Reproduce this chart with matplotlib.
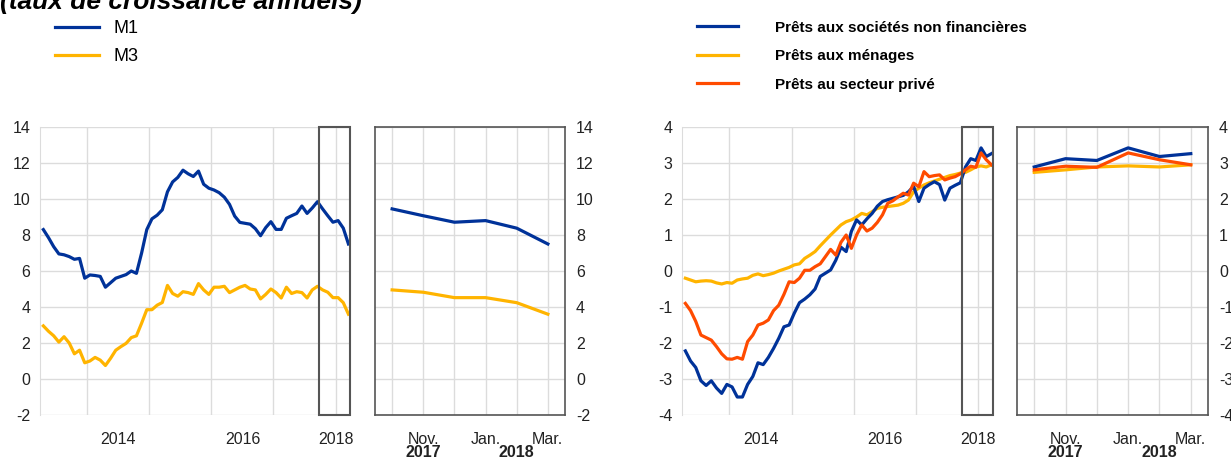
import numpy as np
import matplotlib
matplotlib.use('Agg')
import matplotlib.pyplot as plt
from matplotlib.patches import Rectangle
from matplotlib.lines import Line2D

plt.rcParams['font.family'] = ['Liberation Sans', 'DejaVu Sans']

# monthly data, Apr 2013 .. Mar 2018 (month index counted from Jan 2014)
first_month = -9
m1 = [8.3, 7.85, 7.35, 6.95, 6.9, 6.8, 6.65, 6.7, 5.6, 5.78,
      5.75, 5.7, 5.1, 5.35, 5.6, 5.7, 5.8, 6.0, 5.87, 7.0,
      8.3, 8.9, 9.1, 9.4, 10.4, 10.95, 11.2, 11.6, 11.4, 11.25,
      11.55, 10.82, 10.6, 10.5, 10.35, 10.1, 9.7, 9.05, 8.7, 8.65,
      8.6, 8.35, 7.96, 8.41, 8.74, 8.31, 8.31, 8.93, 9.07, 9.2,
      9.61, 9.2, 9.5, 9.85, 9.45, 9.07, 8.71, 8.8, 8.38, 7.5]
m3 = [2.95, 2.65, 2.4, 2.05, 2.35, 2.0, 1.4, 1.6, 0.9, 1.0,
      1.2, 1.05, 0.75, 1.15, 1.6, 1.8, 1.98, 2.3, 2.4, 3.1,
      3.85, 3.85, 4.1, 4.25, 5.2, 4.75, 4.6, 4.85, 4.8, 4.7,
      5.3, 4.95, 4.7, 5.1, 5.1, 5.15, 4.8, 4.95, 5.1, 5.2,
      5.0, 4.95, 4.45, 4.7, 5.0, 4.8, 4.5, 5.1, 4.75, 4.85,
      4.8, 4.5, 4.95, 5.15, 4.95, 4.82, 4.52, 4.52, 4.24, 3.6]
nfc = [-2.22, -2.5, -2.68, -3.05, -3.18, -3.05, -3.25, -3.4, -3.15, -3.22,
       -3.5, -3.5, -3.15, -2.93, -2.55, -2.6, -2.4, -2.15, -1.87, -1.55,
       -1.5, -1.17, -0.88, -0.78, -0.66, -0.5, -0.15, -0.06, 0.03, 0.3,
       0.66, 0.54, 1.1, 1.42, 1.28, 1.45, 1.6, 1.8, 1.93, 1.98,
       2.02, 2.06, 2.1, 2.2, 2.35, 1.93, 2.3, 2.4, 2.48, 2.4,
       1.97, 2.3, 2.38, 2.45, 2.89, 3.12, 3.07, 3.42, 3.18, 3.26]
households = [-0.2, -0.25, -0.3, -0.28, -0.27, -0.28, -0.33, -0.36, -0.32, -0.34,
              -0.25, -0.22, -0.2, -0.12, -0.08, -0.13, -0.1, -0.06, 0.0, 0.05,
              0.1, 0.17, 0.2, 0.35, 0.44, 0.54, 0.7, 0.85, 1.0, 1.14,
              1.28, 1.37, 1.42, 1.5, 1.6, 1.56, 1.65, 1.74, 1.77, 1.79,
              1.81, 1.83, 1.88, 1.97, 2.2, 2.3, 2.39, 2.45, 2.5, 2.55,
              2.6, 2.65, 2.68, 2.72, 2.74, 2.81, 2.89, 2.92, 2.89, 2.95]
private = [-0.9, -1.1, -1.4, -1.78, -1.85, -1.92, -2.1, -2.3, -2.44, -2.45,
           -2.4, -2.45, -1.96, -1.78, -1.5, -1.45, -1.36, -1.1, -0.95, -0.65,
           -0.3, -0.32, -0.2, 0.02, 0.02, 0.12, 0.2, 0.4, 0.6, 0.44,
           0.8, 1.0, 0.63, 1.0, 1.28, 1.11, 1.19, 1.35, 1.56, 1.88,
           1.95, 2.06, 2.16, 2.11, 2.44, 2.34, 2.76, 2.62, 2.65, 2.67,
           2.53, 2.58, 2.62, 2.7, 2.81, 2.91, 2.88, 3.28, 3.09, 2.95]

year_labels = ['2014', '2016', '2018']
year_label_pos = [6, 30, 48]
year_starts = [0, 12, 24, 36, 48]
zoom_month_labels = ['', 'Nov.', '', 'Jan.', '', 'Mar.']
zoom_year_labels = ['2017', '2018']
zoom_year_pos = [1, 4]
n_zoom = 6

blue = '#003299'
yellow = '#FFB400'
orange = '#FF4B00'
grid_c = '#dcdcdc'
frame_c = '#555555'

x = np.arange(len(m1)) + first_month + 0.5
xlim_main = (-9.15, 50.8)
box_left = 44.8

fig = plt.figure(figsize=(12.31, 4.59), dpi=100)
H = 459.0
W = 1231.0
bottom = (H - 415) / H
height = 288 / H
ax1 = fig.add_axes([40 / W, bottom, 310 / W, height])
ax2 = fig.add_axes([375 / W, bottom, 190 / W, height])
ax3 = fig.add_axes([682 / W, bottom, 311 / W, height])
ax4 = fig.add_axes([1017 / W, bottom, 191 / W, height])


def main_panel(ax, series, ylim, yticks):
    for vals, col in series:
        ax.plot(x, vals, color=col, lw=2.3, solid_joinstyle='round', zorder=3)
    ax.set_xlim(*xlim_main)
    ax.set_ylim(*ylim)
    ax.set_yticks(yticks)
    ax.set_yticklabels([str(v) for v in yticks])
    ax.set_xticks(year_label_pos)
    ax.set_xticklabels(year_labels)
    ax.grid(axis='y', color=grid_c, lw=1.0)
    for ys in year_starts:
        ax.axvline(ys, color=grid_c, lw=1.0, zorder=1)
    for s in ['top', 'right', 'bottom']:
        ax.spines[s].set_visible(False)
    ax.spines['left'].set_color(grid_c)
    ax.tick_params(axis='both', length=0, labelsize=11.5, colors='#222222')
    ax.tick_params(axis='x', pad=12)
    ax.tick_params(axis='y', pad=7)
    ax.add_patch(Rectangle((box_left, ylim[0]), xlim_main[1] - box_left,
                           ylim[1] - ylim[0], fill=False, ec=frame_c, lw=1.5,
                           zorder=5, clip_on=False))


def zoom_panel(ax, series, ylim, yticks):
    xz = np.arange(n_zoom)
    for vals, col in series:
        ax.plot(xz, vals[-n_zoom:], color=col, lw=2.3, solid_joinstyle='round', zorder=3)
    ax.set_xlim(-0.55, 5.55)
    ax.set_ylim(*ylim)
    ax.set_yticks(yticks)
    ax.set_yticklabels([str(v) for v in yticks])
    ax.yaxis.tick_right()
    ax.xaxis.remove_overlapping_locs = False
    ax.set_xticks(xz)
    ax.set_xticklabels(zoom_month_labels)
    ax.set_xticks(zoom_year_pos, minor=True)
    ax.set_xticklabels(zoom_year_labels, minor=True, fontweight='bold')
    ax.grid(True, color=grid_c, lw=1.0, which='major')
    for s in ax.spines.values():
        s.set_color(frame_c)
        s.set_linewidth(1.2)
    ax.tick_params(axis='both', which='both', length=0, labelsize=11.5, colors='#222222')
    ax.tick_params(axis='x', which='major', pad=12)
    ax.tick_params(axis='x', which='minor', pad=21.5)
    ax.tick_params(axis='y', pad=8)


money = [(m3, yellow), (m1, blue)]
main_panel(ax1, money, (-2, 14), list(range(-2, 15, 2)))
zoom_panel(ax2, money, (-2, 14), list(range(-2, 15, 2)))

loans = [(households, yellow), (nfc, blue), (private, orange)]
main_panel(ax3, loans, (-4, 4), list(range(-4, 5)))
zoom_panel(ax4, loans, (-4, 4), list(range(-4, 5)))

fig.text(0.0, 1 - 9 / H, '(taux de croissance annuels)', fontsize=19,
         fontweight='bold', fontstyle='italic', va='baseline', ha='left')

h_left = [Line2D([], [], color=blue, lw=2.3), Line2D([], [], color=yellow, lw=2.3)]
fig.legend(h_left, ['M1', 'M3'], loc='upper left',
           bbox_to_anchor=(39 / W, 1 - 4 / H), frameon=False, fontsize=13,
           handlelength=2.4, handletextpad=0.85, labelspacing=0.6)

h_right = [Line2D([], [], color=blue, lw=2.3), Line2D([], [], color=yellow, lw=2.3),
           Line2D([], [], color=orange, lw=2.3)]
fig.legend(h_right, ['Prêts aux sociétés non financières', 'Prêts aux ménages',
                     'Prêts au secteur privé'],
           loc='upper left', bbox_to_anchor=(683 / W, 1 - 7 / H), frameon=False,
           prop={'size': 11, 'weight': 'bold'},
           handlelength=2.7, handletextpad=2.4, labelspacing=0.95)

fig.savefig('out.png', dpi=100)
